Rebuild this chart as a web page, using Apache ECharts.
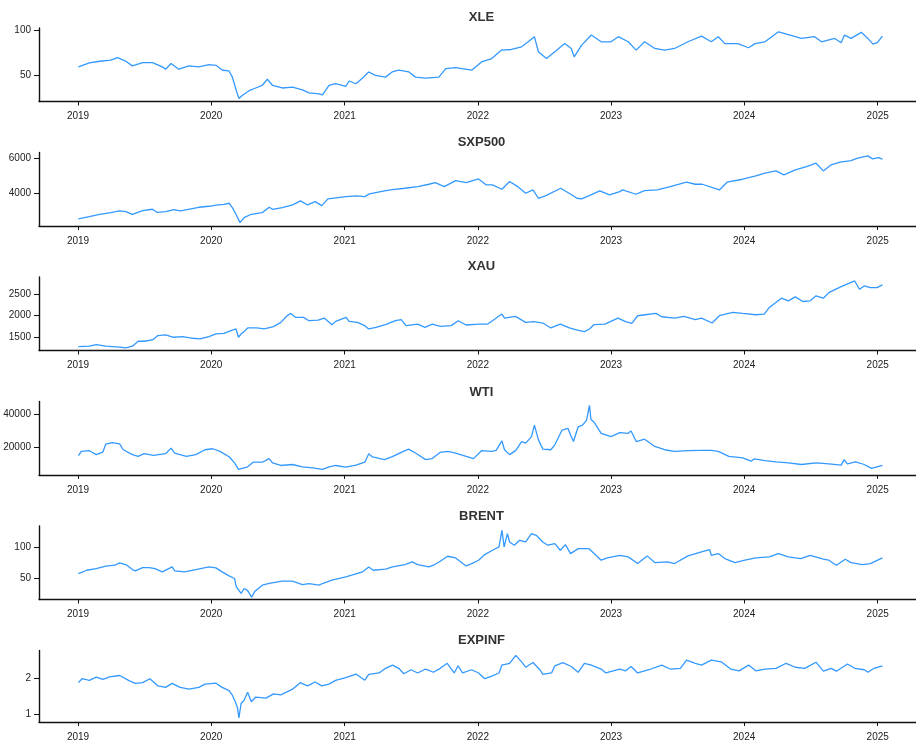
<!DOCTYPE html>
<html>
<head>
<meta charset="utf-8">
<script src="https://cdn.jsdelivr.net/npm/echarts@6/dist/echarts.min.js"></script>
<style>
html,body{margin:0;padding:0;background:#fff;}
#chart{width:916px;height:742px;}
</style>
</head>
<body>
<div id="chart"></div>
<script>
// ---- data ----
const titles = ['XLE', 'SXP500', 'XAU', 'WTI', 'BRENT', 'EXPINF'];
const yearTicks = ['2019-01-01','2020-01-01','2021-01-01','2022-01-01','2023-01-01','2024-01-01','2025-01-01'];

const xle = [
['2019-01-02',59.3],['2019-02-01',63.7],['2019-03-01',65.5],['2019-04-01',66.7],['2019-04-19',69.6],['2019-05-10',66],['2019-05-30',60.4],['2019-06-27',64],['2019-07-24',64],['2019-08-20',59.3],['2019-08-29',56.7],['2019-09-13',63],['2019-10-04',56.7],['2019-11-01',60.4],['2019-11-28',59.3],['2019-12-26',61.9],
['2020-01-14',61],['2020-02-01',55.6],['2020-02-19',54.8],['2020-02-28',48],['2020-03-10',33],['2020-03-17',24.5],['2020-03-26',27.8],['2020-04-14',33],['2020-05-02',36],['2020-05-20',39],['2020-06-03',45.6],['2020-06-17',39],['2020-07-14',36],['2020-08-11',37],['2020-09-07',34],['2020-09-25',30.7],['2020-10-23',29.6],['2020-11-01',28.5],['2020-11-19',39],['2020-12-07',40.7],
['2021-01-04',37.8],['2021-01-13',43.7],['2021-02-01',40.7],['2021-02-19',47],['2021-03-08',53.7],['2021-03-26',50],['2021-04-23',48],['2021-05-11',53.7],['2021-05-29',55.6],['2021-06-26',53.7],['2021-07-14',48],['2021-08-11',47],['2021-09-16',48],['2021-10-05',57.4],['2021-11-01',58.5],['2021-12-15',55.6],['2021-12-20',53.7],
['2022-01-11',64.8],['2022-02-08',68.5],['2022-03-07',77.8],['2022-04-03',78.5],['2022-05-01',81.5],['2022-05-19',87],['2022-06-05',92.6],['2022-06-16',76],['2022-07-08',68.5],['2022-07-31',76],['2022-08-27',85],['2022-09-14',79.6],['2022-09-22',70.4],['2022-10-12',83],['2022-11-08',94.4],['2022-12-05',87],
['2023-01-01',87],['2023-01-21',92.6],['2023-02-17',87],['2023-03-11',77.8],['2023-04-03',87],['2023-05-01',79.6],['2023-05-28',77.8],['2023-06-24',79.6],['2023-07-31',87],['2023-09-06',93.3],['2023-10-03',87],['2023-10-22',92.6],['2023-11-09',85],['2023-12-15',85],
['2024-01-13',80.4],['2024-01-31',85],['2024-02-27',87],['2024-04-04',98],['2024-05-01',95],['2024-06-06',90.7],['2024-07-12',92.6],['2024-07-31',87],['2024-09-05',90.7],['2024-09-23',86],['2024-10-02',94.4],['2024-10-20',90.7],['2024-11-17',97.4],['2024-12-05',90.7],['2024-12-19',84.4],['2024-12-31',86],['2025-01-14',93.3]
];

const sxp500 = [
['2019-01-02',2533],['2019-02-01',2667],['2019-03-01',2800],['2019-04-01',2895],['2019-04-25',2990],['2019-05-12',2952],['2019-05-30',2800],['2019-06-27',3010],['2019-07-24',3086],['2019-08-05',2914],['2019-08-29',2952],['2019-09-20',3067],['2019-10-09',2990],['2019-11-28',3200],['2019-12-26',3257],
['2020-01-20',3333],['2020-02-05',3371],['2020-02-19',3429],['2020-02-28',3181],['2020-03-10',2762],['2020-03-20',2324],['2020-03-23',2286],['2020-03-31',2610],['2020-04-20',2800],['2020-05-20',2895],['2020-06-08',3200],['2020-06-17',3086],['2020-07-14',3181],['2020-08-11',3333],['2020-09-02',3562],['2020-09-21',3333],['2020-10-12',3524],['2020-10-30',3295],['2020-11-16',3676],
['2021-01-04',3810],['2021-02-01',3848],['2021-02-25',3810],['2021-03-10',3962],['2021-04-20',4133],['2021-05-12',4210],['2021-06-15',4286],['2021-07-20',4381],['2021-08-20',4514],['2021-09-06',4610],['2021-10-01',4381],['2021-11-01',4724],['2021-11-30',4610],
['2022-01-03',4819],['2022-01-24',4476],['2022-02-10',4476],['2022-03-08',4229],['2022-03-29',4667],['2022-04-20',4381],['2022-05-12',4000],['2022-06-01',4190],['2022-06-16',3714],['2022-07-05',3848],['2022-08-16',4286],['2022-09-08',4000],['2022-09-30',3714],['2022-10-12',3676],['2022-11-01',3848],['2022-12-01',4133],['2022-12-28',3905],
['2023-01-25',4095],['2023-02-02',4190],['2023-03-10',3943],['2023-04-03',4152],['2023-05-08',4190],['2023-06-12',4381],['2023-07-27',4629],['2023-08-20',4514],['2023-09-08',4514],['2023-10-25',4190],['2023-11-15',4629],['2023-12-28',4800],
['2024-02-02',4990],['2024-02-27',5143],['2024-03-28',5276],['2024-04-19',5048],['2024-05-20',5333],['2024-06-20',5524],['2024-07-16',5714],['2024-08-05',5276],['2024-08-26',5619],['2024-09-20',5771],['2024-10-20',5867],['2024-11-07',6000],['2024-12-05',6133],['2024-12-18',5962],['2025-01-03',6038],['2025-01-14',5943]
];

const xau = [
['2019-01-02',1295],['2019-02-01',1303],['2019-02-20',1340],['2019-03-18',1303],['2019-04-25',1280],['2019-05-12',1265],['2019-05-30',1303],['2019-06-15',1416],['2019-07-01',1416],['2019-07-24',1447],['2019-08-08',1545],['2019-08-29',1560],['2019-09-20',1507],['2019-10-15',1522],['2019-11-12',1484],['2019-12-01',1470],['2019-12-26',1522],
['2020-01-14',1583],['2020-02-05',1598],['2020-02-24',1659],['2020-03-09',1697],['2020-03-16',1507],['2020-03-23',1583],['2020-03-31',1636],['2020-04-10',1720],['2020-05-05',1720],['2020-05-25',1697],['2020-06-20',1750],['2020-07-10',1848],['2020-07-27',2000],['2020-08-06',2053],['2020-08-20',1962],['2020-09-10',1962],['2020-09-25',1886],['2020-10-20',1901],['2020-11-06',1947],['2020-11-27',1795],['2020-12-07',1871],
['2021-01-05',1962],['2021-01-13',1871],['2021-02-05',1848],['2021-02-25',1773],['2021-03-08',1697],['2021-03-28',1735],['2021-04-23',1795],['2021-05-20',1886],['2021-06-05',1909],['2021-06-18',1773],['2021-07-20',1810],['2021-08-09',1735],['2021-08-29',1810],['2021-09-20',1757],['2021-10-20',1773],['2021-11-08',1886],['2021-11-30',1788],
['2022-01-03',1810],['2022-01-28',1810],['2022-02-10',1886],['2022-03-08',2038],['2022-03-15',1947],['2022-04-14',1985],['2022-05-12',1848],['2022-06-03',1864],['2022-06-28',1833],['2022-07-20',1720],['2022-08-15',1810],['2022-09-09',1720],['2022-09-28',1674],['2022-10-20',1636],['2022-11-03',1697],['2022-11-15',1795],['2022-12-15',1810],
['2023-01-20',1947],['2023-02-10',1864],['2023-02-27',1826],['2023-03-15',2000],['2023-04-05',2023],['2023-05-04',2053],['2023-05-20',1977],['2023-06-25',1947],['2023-07-20',1985],['2023-08-20',1909],['2023-09-06',1947],['2023-10-05',1833],['2023-10-25',2000],['2023-12-01',2076],['2023-12-28',2053],
['2024-02-02',2023],['2024-02-25',2038],['2024-03-10',2190],['2024-04-12',2402],['2024-05-01',2341],['2024-05-20',2432],['2024-06-10',2326],['2024-06-30',2341],['2024-07-16',2455],['2024-08-05',2402],['2024-08-20',2530],['2024-09-23',2667],['2024-10-30',2796],['2024-11-12',2606],['2024-11-25',2682],['2024-12-12',2644],['2024-12-30',2644],['2025-01-14',2705]
];

const wti = [
['2019-01-02',14748],['2019-01-10',17374],['2019-02-01',17778],['2019-02-20',15354],['2019-03-10',16970],['2019-03-18',21818],['2019-04-05',22828],['2019-04-25',22020],['2019-05-05',18384],['2019-05-30',15354],['2019-06-15',14344],['2019-07-01',15960],['2019-07-27',14950],['2019-08-29',15960],['2019-09-13',19394],['2019-09-23',16364],['2019-10-25',14344],['2019-11-20',15354],['2019-12-15',18384],
['2020-01-05',18990],['2020-01-25',17374],['2020-02-20',13940],['2020-03-05',10304],['2020-03-16',6264],['2020-03-20',5860],['2020-04-10',7880],['2020-04-25',10708],['2020-05-20',10708],['2020-06-08',12930],['2020-06-17',10304],['2020-07-10',8688],['2020-08-11',9294],['2020-09-07',7880],['2020-10-05',7274],['2020-11-01',6264],['2020-11-19',7880],['2020-12-07',8688],
['2021-01-04',7678],['2021-02-01',8890],['2021-02-25',10708],['2021-03-08',15960],['2021-03-18',13940],['2021-04-20',12324],['2021-05-10',13940],['2021-06-05',16768],['2021-06-25',18788],['2021-07-14',16364],['2021-08-11',12324],['2021-08-29',12930],['2021-09-20',16768],['2021-10-10',17374],['2021-11-01',16364],['2021-11-30',14344],['2021-12-20',12930],
['2022-01-11',17778],['2022-02-08',17374],['2022-02-20',17980],['2022-03-08',23838],['2022-03-15',18384],['2022-03-29',15354],['2022-04-15',17980],['2022-05-01',23434],['2022-05-12',22424],['2022-05-28',26464],['2022-06-05',33534],['2022-06-16',24444],['2022-06-28',18788],['2022-07-20',18384],['2022-07-31',21414],['2022-08-20',30504],['2022-09-05',31514],['2022-09-12',27474],['2022-09-20',23434],['2022-10-03',32500],['2022-10-15',33500],['2022-10-26',36600],['2022-11-03',45654],['2022-11-07',37000],['2022-11-15',35500],['2022-12-05',28484],
['2023-01-01',26464],['2023-01-25',28888],['2023-02-17',28484],['2023-02-25',29898],['2023-03-11',23434],['2023-04-03',24848],['2023-05-01',20404],['2023-05-28',18384],['2023-06-24',17374],['2023-07-31',17778],['2023-09-06',17980],['2023-10-03',17980],['2023-10-22',17374],['2023-11-20',14344],['2023-12-28',13334],
['2024-01-20',11314],['2024-01-28',12728],['2024-02-27',11718],['2024-03-28',10910],['2024-05-01',10304],['2024-06-06',9294],['2024-07-16',10304],['2024-08-20',9698],['2024-09-23',8890],['2024-10-01',12324],['2024-10-10',9698],['2024-11-01',10910],['2024-11-25',9294],['2024-12-15',6870],['2025-01-14',8688]
];

const brent = [
['2019-01-02',58],['2019-01-25',63.4],['2019-02-20',66.1],['2019-03-18',69.9],['2019-04-12',71.5],['2019-04-25',75.3],['2019-05-15',71.5],['2019-05-30',64.5],['2019-06-07',62.4],['2019-06-27',67.7],['2019-07-15',67.7],['2019-07-31',66.1],['2019-08-20',60.8],['2019-09-16',68.8],['2019-09-23',62.4],['2019-10-20',60.8],['2019-11-20',64.5],['2019-12-26',68.8],
['2020-01-14',67.2],['2020-01-31',60.8],['2020-02-19',54.3],['2020-03-05',50],['2020-03-10',36.6],['2020-03-23',25.8],['2020-03-31',33.9],['2020-04-10',30.5],['2020-04-21',20],['2020-04-30',29.6],['2020-05-20',39.3],['2020-06-08',42],['2020-07-14',45.7],['2020-08-11',45.7],['2020-09-07',40.3],['2020-09-25',41.9],['2020-10-23',39.3],['2020-11-01',41.9],['2020-11-27',47.3],
['2021-01-04',52.7],['2021-01-20',55.4],['2021-02-19',60.8],['2021-03-08',68.8],['2021-03-20',63.4],['2021-04-23',65.1],['2021-05-12',68.8],['2021-06-15',72.6],['2021-07-05',76.9],['2021-07-20',72.6],['2021-08-20',68.8],['2021-09-01',71.5],['2021-09-20',78],['2021-10-10',86],['2021-11-01',83.3],['2021-11-30',70.4],['2021-12-15',74.2],
['2022-01-03',79.6],['2022-01-20',88.7],['2022-02-10',95.7],['2022-02-28',101.1],['2022-03-08',128],['2022-03-14',101.1],['2022-03-23',122.6],['2022-03-29',109.1],['2022-04-11',103.8],['2022-04-25',111.8],['2022-05-12',109.1],['2022-05-28',122.6],['2022-06-10',119.9],['2022-06-28',109.1],['2022-07-12',103.8],['2022-07-31',106.5],['2022-08-15',95.7],['2022-08-29',104.8],['2022-09-12',90.3],['2022-10-03',98.4],['2022-11-01',98.4],['2022-12-05',79.6],['2022-12-22',83.3],
['2023-01-25',87.6],['2023-02-17',85],['2023-03-15',74.2],['2023-04-10',86.6],['2023-05-01',75.8],['2023-06-05',76.9],['2023-06-24',74.2],['2023-07-31',86.6],['2023-09-06',93],['2023-09-28',96.8],['2023-10-03',87.6],['2023-10-22',90.3],['2023-11-09',82.3],['2023-12-07',75.8],
['2024-01-03',79.6],['2024-02-02',83.3],['2024-03-10',85],['2024-04-04',90.3],['2024-05-01',85],['2024-06-04',82.3],['2024-06-30',87.6],['2024-08-05',81.2],['2024-08-20',79.6],['2024-09-10',71.5],['2024-10-04',81.2],['2024-10-20',75.8],['2024-11-20',72.6],['2024-12-12',74.2],['2025-01-14',83.3]
];

const expinf = [
['2019-01-02',1.89],['2019-01-12',2.0],['2019-02-01',1.955],['2019-02-20',2.045],['2019-03-10',1.98],['2019-03-28',2.05],['2019-04-25',2.09],['2019-05-22',1.94],['2019-06-07',1.87],['2019-06-27',1.89],['2019-07-17',2.0],['2019-08-08',1.80],['2019-08-29',1.76],['2019-09-16',1.87],['2019-10-08',1.76],['2019-11-01',1.71],['2019-11-28',1.76],['2019-12-15',1.85],
['2020-01-14',1.875],['2020-01-31',1.76],['2020-02-19',1.67],['2020-02-28',1.54],['2020-03-07',1.36],['2020-03-13',1.20],['2020-03-17',0.91],['2020-03-23',1.31],['2020-03-31',1.40],['2020-04-10',1.625],['2020-04-20',1.36],['2020-05-02',1.49],['2020-05-30',1.46],['2020-06-20',1.58],['2020-07-10',1.55],['2020-08-11',1.71],['2020-09-01',1.89],['2020-09-21',1.80],['2020-10-12',1.91],['2020-10-30',1.80],['2020-11-19',1.85],['2020-12-07',1.955],
['2021-01-04',2.03],['2021-02-01',2.13],['2021-02-25',1.96],['2021-03-08',2.12],['2021-04-05',2.16],['2021-04-23',2.29],['2021-05-12',2.38],['2021-05-29',2.29],['2021-06-12',2.14],['2021-07-02',2.25],['2021-07-20',2.16],['2021-08-11',2.27],['2021-09-01',2.18],['2021-09-20',2.29],['2021-10-09',2.43],['2021-10-28',2.16],['2021-11-08',2.36],['2021-11-20',2.16],['2021-12-15',2.25],
['2022-01-03',2.16],['2022-01-20',2.0],['2022-02-08',2.07],['2022-02-28',2.16],['2022-03-08',2.38],['2022-03-29',2.43],['2022-04-15',2.65],['2022-05-01',2.47],['2022-05-12',2.32],['2022-06-01',2.45],['2022-06-20',2.25],['2022-06-28',2.12],['2022-07-22',2.16],['2022-07-31',2.36],['2022-08-22',2.45],['2022-09-14',2.34],['2022-10-03',2.18],['2022-10-20',2.43],['2022-11-08',2.38],['2022-12-05',2.27],['2022-12-18',2.16],
['2023-01-25',2.27],['2023-02-10',2.22],['2023-02-25',2.34],['2023-03-15',2.16],['2023-04-15',2.25],['2023-05-20',2.38],['2023-06-12',2.27],['2023-07-10',2.29],['2023-07-27',2.52],['2023-08-20',2.43],['2023-09-06',2.38],['2023-10-03',2.52],['2023-10-30',2.47],['2023-11-25',2.27],['2023-12-18',2.22],
['2024-01-13',2.38],['2024-02-02',2.22],['2024-02-27',2.27],['2024-03-28',2.29],['2024-04-25',2.43],['2024-05-20',2.32],['2024-06-15',2.29],['2024-07-16',2.46],['2024-08-05',2.21],['2024-08-26',2.29],['2024-09-10',2.21],['2024-10-10',2.41],['2024-10-30',2.29],['2024-11-25',2.25],['2024-12-05',2.18],['2024-12-22',2.29],['2025-01-14',2.36]
];

const yTicks = [[50,100],[4000,6000],[1500,2000,2500],[20000,40000],[50,100],[1,2]];
const yMin = [21.1, 2131, 1204, 2830, 16.1, 0.795];
const yMax = [102.2, 6326, 2887, 48078, 134.9, 2.786];

// ---- layout ----
const seriesData = [xle, sxp500, xau, wti, brent, expinf];
const gridTops = [28, 152.5, 277, 401.5, 526, 650.5];
const titleTops = [6, 131.3, 255.3, 380.5, 504.5, 629];
const gridH = 73.5;
const FONT = '"Liberation Sans", Arial, Helvetica, sans-serif';
const toTime = s => echarts.time.parse(s).getTime();
const tickTimes = yearTicks.map(toTime);
const xMin = toTime('2018-09-16');
const xMax = toTime('2025-04-16');

const chart = echarts.init(document.getElementById('chart'), null, {renderer: 'canvas'});
const option = {
  animation: false,
  backgroundColor: '#fff',
  title: titles.map((t, i) => ({
    text: t, left: 476.5, top: titleTops[i], textAlign: 'center',
    textStyle: {fontFamily: FONT, fontWeight: 'bold', fontSize: 13, color: '#333'}
  })),
  grid: gridTops.map(t => ({left: 39, right: 0, top: t, height: gridH, containLabel: false})),
  xAxis: seriesData.map((d, i) => ({
    type: 'value', gridIndex: i, min: xMin, max: xMax,
    axisLine: {show: true, onZero: false, lineStyle: {color: '#111', width: 1.4}},
    axisTick: {show: true, length: 4, lineStyle: {color: '#111', width: 1}, customValues: tickTimes},
    axisLabel: {show: true, margin: 10, fontSize: 10, fontFamily: FONT, color: '#222',
      customValues: tickTimes, formatter: v => String(new Date(v).getFullYear())},
    splitLine: {show: false}
  })),
  yAxis: seriesData.map((d, i) => ({
    type: 'value', gridIndex: i, min: yMin[i], max: yMax[i],
    axisLine: {show: true, onZero: false, lineStyle: {color: '#111', width: 1.4}},
    axisTick: {show: true, length: 5, lineStyle: {color: '#111', width: 1}, customValues: yTicks[i]},
    axisLabel: {show: true, margin: 8, fontSize: 10, fontFamily: FONT, color: '#222',
      customValues: yTicks[i], formatter: v => String(v)},
    splitLine: {show: false}
  })),
  series: seriesData.map((d, i) => ({
    type: 'line', xAxisIndex: i, yAxisIndex: i,
    data: d.map(p => [toTime(p[0]), p[1]]),
    showSymbol: false, symbol: 'none', smooth: false,
    lineStyle: {color: '#3399ff', width: 1.3}, itemStyle: {color: '#3399ff'}
  }))
};
chart.setOption(option);
</script>
</body>
</html>
